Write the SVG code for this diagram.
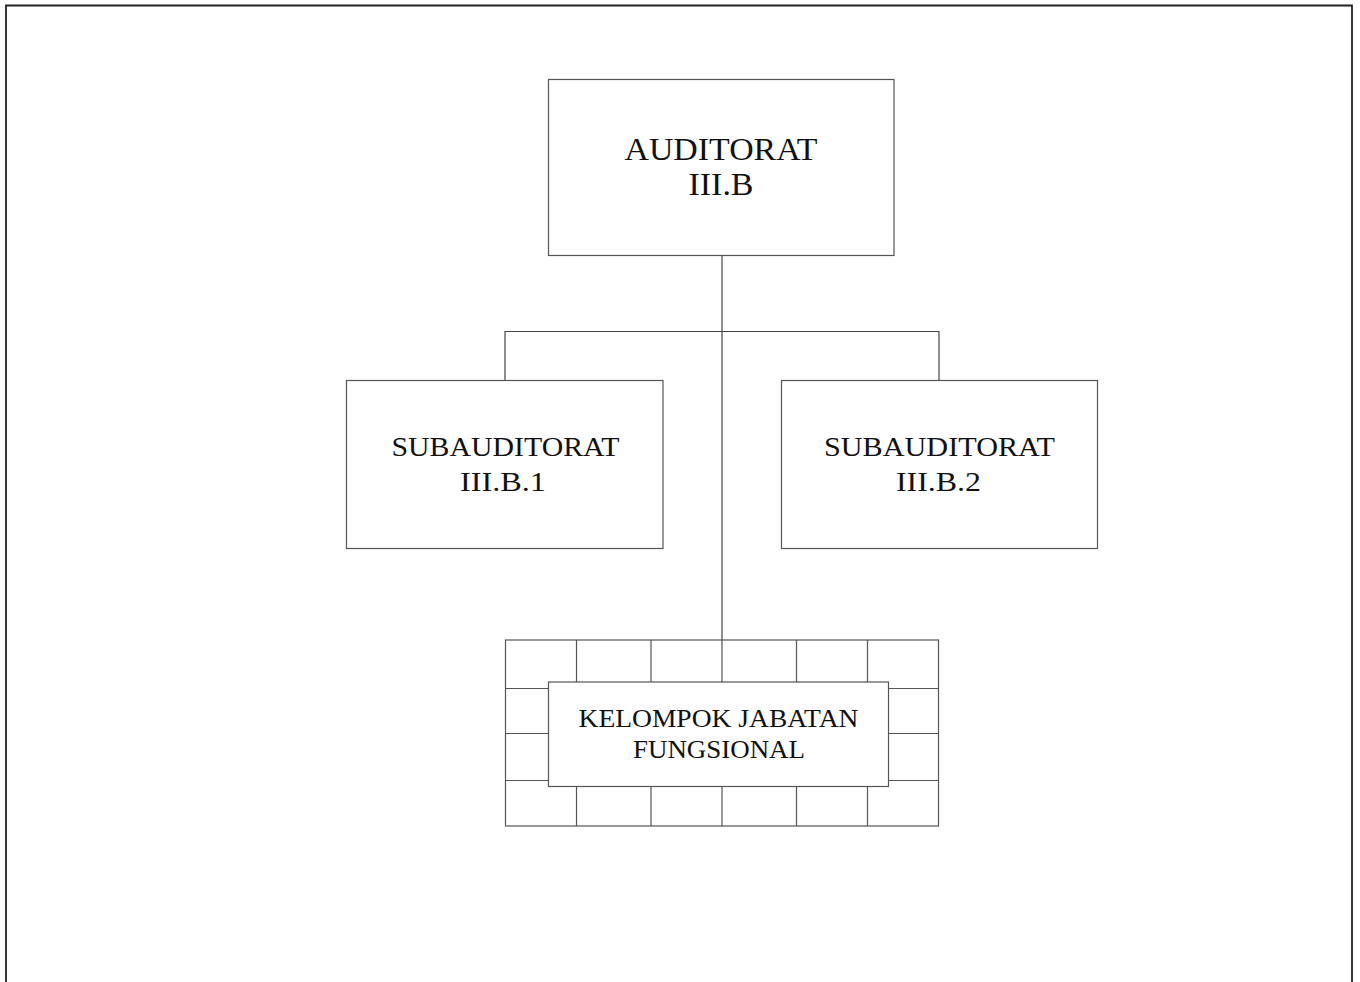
<svg xmlns="http://www.w3.org/2000/svg" width="1360" height="982" viewBox="0 0 1360 982">
  <style>
    .box { fill: #ffffff; stroke: #555555; stroke-width: 1.2; }
    .wire { fill: none; stroke: #444444; stroke-width: 1.2; }
    .grid { fill: none; stroke: #555555; stroke-width: 1.2; }
    .lbl { font-family: "Liberation Serif", "Times New Roman", serif; fill: #111111; text-anchor: middle; }
  </style>
  <rect width="1360" height="982" fill="#ffffff"/>
  <!-- page frame, open at the bottom -->
  <path d="M6,990 V5.5 H1352 V990" fill="none" stroke="#222222" stroke-width="1.8"/>

  <!-- connectors -->
  <g id="connectors">
    <path class="wire" d="M722,256 V640"/>
    <path class="wire" d="M505,380 V331.5 H939 V380"/>
  </g>

  <g id="auditorat">
    <rect class="box" x="548.5" y="79.5" width="345.5" height="176"/>
    <text class="lbl" x="721" y="159.5" font-size="32" textLength="193" lengthAdjust="spacingAndGlyphs">AUDITORAT</text>
    <text class="lbl" x="721" y="195" font-size="32" textLength="65" lengthAdjust="spacingAndGlyphs">III.B</text>
  </g>

  <g id="sub1">
    <rect class="box" x="346.5" y="380.5" width="316.5" height="168"/>
    <text class="lbl" x="505.5" y="455.5" font-size="28" textLength="228" lengthAdjust="spacingAndGlyphs">SUBAUDITORAT</text>
    <text class="lbl" x="503" y="490.5" font-size="28" textLength="86" lengthAdjust="spacingAndGlyphs">III.B.1</text>
  </g>

  <g id="sub2">
    <rect class="box" x="781.5" y="380.5" width="316" height="168"/>
    <text class="lbl" x="939.5" y="455.5" font-size="28" textLength="231" lengthAdjust="spacingAndGlyphs">SUBAUDITORAT</text>
    <text class="lbl" x="938.5" y="490.5" font-size="28" textLength="85" lengthAdjust="spacingAndGlyphs">III.B.2</text>
  </g>

  <g id="kelompok">
    <!-- brick grid behind the label box -->
    <rect class="grid" x="505.5" y="640" width="433" height="186"/>
    <path class="grid" d="M505.5,688.5 H938.5 M505.5,733.5 H938.5 M505.5,780.5 H938.5"/>
    <path class="grid" d="M576.5,640 V826 M651,640 V826 M722,640 V826 M796.5,640 V826 M867.5,640 V826"/>
    <rect class="box" x="548.5" y="682" width="340" height="104.5"/>
    <text class="lbl" x="718.5" y="726.5" font-size="25" textLength="280" lengthAdjust="spacingAndGlyphs">KELOMPOK JABATAN</text>
    <text class="lbl" x="719" y="757.5" font-size="25" textLength="172" lengthAdjust="spacingAndGlyphs">FUNGSIONAL</text>
  </g>
</svg>
